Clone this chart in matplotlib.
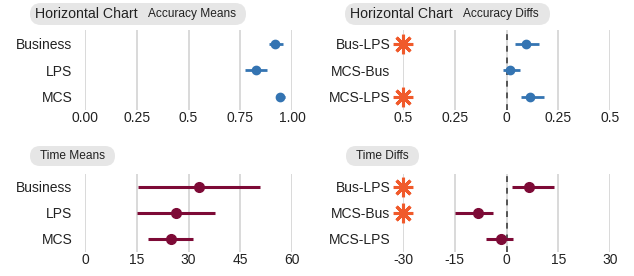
import matplotlib
matplotlib.use("Agg")
import matplotlib.pyplot as plt
from matplotlib.patches import FancyBboxPatch

plt.rcParams['font.family'] = ['Liberation Sans', 'DejaVu Sans']

# ---- data ----
groups = ['Business', 'LPS', 'MCS']
pairs = ['Bus-LPS', 'MCS-Bus', 'MCS-LPS']

acc_mean = [0.918, 0.826, 0.942]
acc_lo = [0.889, 0.773, 0.922]
acc_hi = [0.956, 0.879, 0.966]

acc_diff = [0.095, 0.018, 0.114]
acc_diff_lo = [0.042, -0.019, 0.071]
acc_diff_hi = [0.159, 0.063, 0.182]
acc_sig = [True, False, True]

time_mean = [32.9, 26.4, 24.8]
time_lo = [15.3, 15.0, 18.4]
time_hi = [50.6, 37.6, 31.3]

time_diff = [6.6, -8.2, -1.5]
time_diff_lo = [1.5, -15.0, -5.8]
time_diff_hi = [13.9, -3.8, 1.8]
time_sig = [True, True, False]

acc_ticks = [0, 0.25, 0.5, 0.75, 1.0]
acc_ticklabels = ['0.00', '0.25', '0.5', '0.75', '1.00']
accd_ticks = [-0.5, -0.25, 0, 0.25, 0.5]
accd_ticklabels = ['0.5', '0.25', '0', '0.25', '0.5']
time_ticks = [0, 15, 30, 45, 60]
timed_ticks = [-30, -15, 0, 15, 30]

BLUE = '#3474b2'
MAROON = '#7d0a36'
STAR = '#f05a2b'
GRID = '#d9d9d9'
TXT = '#222222'

W, H = 634, 276
fig = plt.figure(figsize=(W / 100, H / 100), dpi=100)

# overlay in pixel units for the title pills
bg = fig.add_axes([0, 0, 1, 1], zorder=-1)
bg.set_xlim(0, W)
bg.set_ylim(H, 0)
bg.axis('off')


def make_ax(x0, x1, ytop, ybot):
    return fig.add_axes([x0 / W, 1 - ybot / H, (x1 - x0) / W, (ybot - ytop) / H])


def panel(ax, labels, mid, lo, hi, color, ticks, ticklabels, ms, lw, sig=None, zero=False):
    ax.set_xlim(ticks[0], ticks[-1])
    ax.set_ylim(2.5, -0.5)
    for t in ticks:
        ax.axvline(t, color=GRID, lw=1.4, zorder=0)
    if zero:
        ax.axvline(0, color='#555555', lw=1.4, ls=(0, (3, 3)), zorder=1)
    y = list(range(len(labels)))
    for i in y:
        ax.plot([lo[i], hi[i]], [i, i], color=color, lw=lw, solid_capstyle='butt', zorder=2)
    ax.plot(mid, y, 'o', color=color, ms=ms, zorder=3)
    if sig is not None:
        for i in y:
            if sig[i]:
                ax.plot(ticks[0], i, marker=(8, 2, 0), ms=14, mew=2.2, color=STAR,
                        zorder=4, clip_on=False)
    ax.set_yticks(y)
    ax.set_yticklabels(labels)
    ax.set_xticks(ticks)
    ax.set_xticklabels(ticklabels)
    ax.tick_params(length=0, labelsize=10, labelcolor=TXT, pad=1)
    ax.tick_params(axis='y', pad=9)
    for s in ax.spines.values():
        s.set_visible(False)
    ax.patch.set_alpha(0)


def pill(x0, x1, ytop, ybot):
    r = (ybot - ytop) / 2
    p = FancyBboxPatch((x0 + r, ytop + r), (x1 - x0) - 2 * r, (ybot - ytop) - 2 * r,
                       boxstyle='round,pad=%f,rounding_size=%f' % (r, r),
                       facecolor='#e6e6e6', edgecolor='none')
    bg.add_patch(p)


ax1 = make_ax(85, 292, 30.5, 110)
panel(ax1, groups, acc_mean, acc_lo, acc_hi, BLUE, acc_ticks, acc_ticklabels, 6, 2)

ax2 = make_ax(403, 610, 30.5, 110)
panel(ax2, pairs, acc_diff, acc_diff_lo, acc_diff_hi, BLUE, accd_ticks, accd_ticklabels,
      6, 2, sig=acc_sig, zero=True)

ax3 = make_ax(85, 292, 174, 252)
panel(ax3, groups, time_mean, time_lo, time_hi, MAROON, time_ticks,
      [str(t) for t in time_ticks], 7, 2.2)

ax4 = make_ax(403, 610, 174, 252)
panel(ax4, pairs, time_diff, time_diff_lo, time_diff_hi, MAROON, timed_ticks,
      [str(t) for t in timed_ticks], 7, 2.2, sig=time_sig, zero=True)

# title pills
pill(30, 246, 3, 25)
bg.text(35, 14, 'Horizontal Chart', fontsize=10.2, color=TXT, va='center')
bg.text(148, 14.5, 'Accuracy Means', fontsize=8.6, color=TXT, va='center')

pill(345, 550, 3, 25)
bg.text(350, 14, 'Horizontal Chart', fontsize=10.2, color=TXT, va='center')
bg.text(463, 14.5, 'Accuracy Diffs', fontsize=8.6, color=TXT, va='center')

pill(30, 115, 146, 166)
bg.text(72.5, 156, 'Time Means', fontsize=8.6, color=TXT, va='center', ha='center')

pill(346, 419, 146, 166)
bg.text(382.5, 156, 'Time Diffs', fontsize=8.6, color=TXT, va='center', ha='center')

fig.savefig('out.png', dpi=100)
